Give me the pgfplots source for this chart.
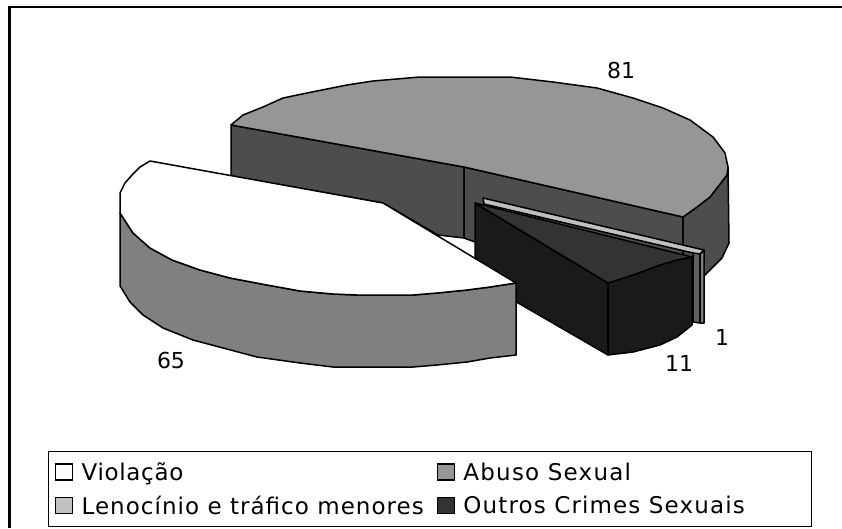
\documentclass[border=0pt]{standalone}
\usepackage{pgfplots}
\pgfplotsset{compat=1.18}
\usepackage{fontspec}
\setmainfont{DejaVu Sans}
\newfontfamily\lgA[LetterSpace=3]{DejaVu Sans}
\newfontfamily\lgB[LetterSpace=4.5]{DejaVu Sans}
\newfontfamily\lgC[LetterSpace=5]{DejaVu Sans}
\newfontfamily\lgD[LetterSpace=5.4]{DejaVu Sans}
\definecolor{cAbuso}{HTML}{969696}
\definecolor{cAbusoSide}{HTML}{4D4D4D}
\definecolor{cLen}{HTML}{C0C0C0}
\definecolor{cLenA}{HTML}{606060}
\definecolor{cLenB}{HTML}{808080}
\definecolor{cOut}{HTML}{333333}
\definecolor{cOutSide}{HTML}{1A1A1A}
\definecolor{cVioSide}{HTML}{808080}
\pgfplotsset{
  face/.style={forget plot,draw=black,line width=1.5pt,line join=round,fill=#1},
  swatch/.style={legend image code/.code={
    \draw[draw=black,line width=1.4pt,fill=#1] (0pt,-8pt) rectangle (17pt,8pt);
    \path (23.5pt,0pt);}},
}
\begin{document}
\begin{tikzpicture}[x=1pt,y=1pt]
\path[use as bounding box] (0,0) rectangle (842pt,528pt);
\begin{axis}[
  at={(0,0)},anchor=south west,
  scale only axis,width=842pt,height=528pt,
  xmin=0,xmax=842,ymin=0,ymax=528,y dir=reverse,
  hide axis,clip=false,
  legend columns=2,
  legend cell align=left,
  legend style={at={(axis cs:47.6,451)},anchor=north west,draw=black,line width=0.8pt,
    font=\fontsize{23}{26}\selectfont,inner xsep=7pt,inner ysep=9pt,row sep=10pt,
    /tikz/every even column/.append style={column sep=11pt}},
]
% outer frame
\addplot[forget plot,black,line width=2.5pt] coordinates {(9.5,528)(9.5,7)(842,7)};

% Abuso Sexual (81): walls, then top
\addplot[face=cAbusoSide] coordinates {(231,125)(464,167)(464,238)(438,235)(383,203)(231,176)} --cycle;
\addplot[face=cAbusoSide] coordinates {(464,167)(683,217)(683,290)(475,242)(464,238)} --cycle;
\addplot[face=cAbusoSide] coordinates {(683,217)(697,207)(710,197)(727,175)(728,167)(729,243)(722,258)(713,267)(705,275)(683,290)} --cycle;
\addplot[face=cAbuso] coordinates {(231,125)(243,115)(263,107)(283,98)(307,93)(347,85)(373,81)(420,77)(510,77)(553,82)(597,88)(633,98)(663,108)(690,120)(713,137)(725,153)(728,167)(727,175)(710,197)(697,207)(683,217)(464,167)} --cycle;

% Lenocinio (1)
\addplot[face=cLenA] coordinates {(693,252)(700,254)(700,323)(693,322)} --cycle;
\addplot[face=cLenB] coordinates {(700,254)(704,250)(704,323)(700,323)} --cycle;
\addplot[face=cLen] coordinates {(483,198)(704,250)(700,254)(693,253)(484,204)} --cycle;

% Outros Crimes Sexuais (11)
\addplot[face=cOutSide] coordinates {(475,203)(608,283)(608,355)(475,278)} --cycle;
\addplot[face=cOutSide] coordinates {(608,283)(633,275)(660,265)(677,260)(692,257)(692,325)(677,337)(660,345)(633,352)(608,355)} --cycle;
\addplot[face=cOut] coordinates {(475,203)(692,257)(677,260)(660,265)(633,275)(608,283)} --cycle;

% Violacao (65)
\addplot[face=cVioSide] coordinates {(120,213)(133,233)(150,248)(172,260)(200,270)(230,278)(267,285)(300,291)(333,294)(357,295)(413,295)(437,293)(467,290)(490,287)(516,283)(516,355)(490,358)(467,362)(437,365)(413,367)(333,367)(300,363)(257,357)(223,348)(193,340)(163,328)(143,315)(130,302)(120,286)} --cycle;
\addplot[face=white] coordinates {(150,161)(383,203)(516,283)(490,287)(467,290)(437,293)(413,295)(357,295)(333,294)(300,291)(267,285)(230,278)(200,270)(172,260)(150,248)(133,233)(120,213)(120,193)(125,183)(132,175)(140,167)} --cycle;

% value labels
\node[font=\fontsize{22}{26}\selectfont] at (axis cs:621,70) {81};
\node[font=\fontsize{22}{26}\selectfont] at (axis cs:171,360) {65};
\node[font=\fontsize{22}{26}\selectfont] at (axis cs:722,337) {1};
\node[font=\fontsize{22}{26}\selectfont] at (axis cs:679,363) {11};

% legend
\addlegendimage{swatch=white}\addlegendentry{\lgA Violação}
\addlegendimage{swatch=cAbuso}\addlegendentry{\lgD Abuso Sexual}
\addlegendimage{swatch=cLen}\addlegendentry{\lgB Lenocínio e tráfico menores}
\addlegendimage{swatch=cOut}\addlegendentry{\lgC Outros Crimes Sexuais\rule{58pt}{0pt}}
\end{axis}
\end{tikzpicture}
\end{document}
